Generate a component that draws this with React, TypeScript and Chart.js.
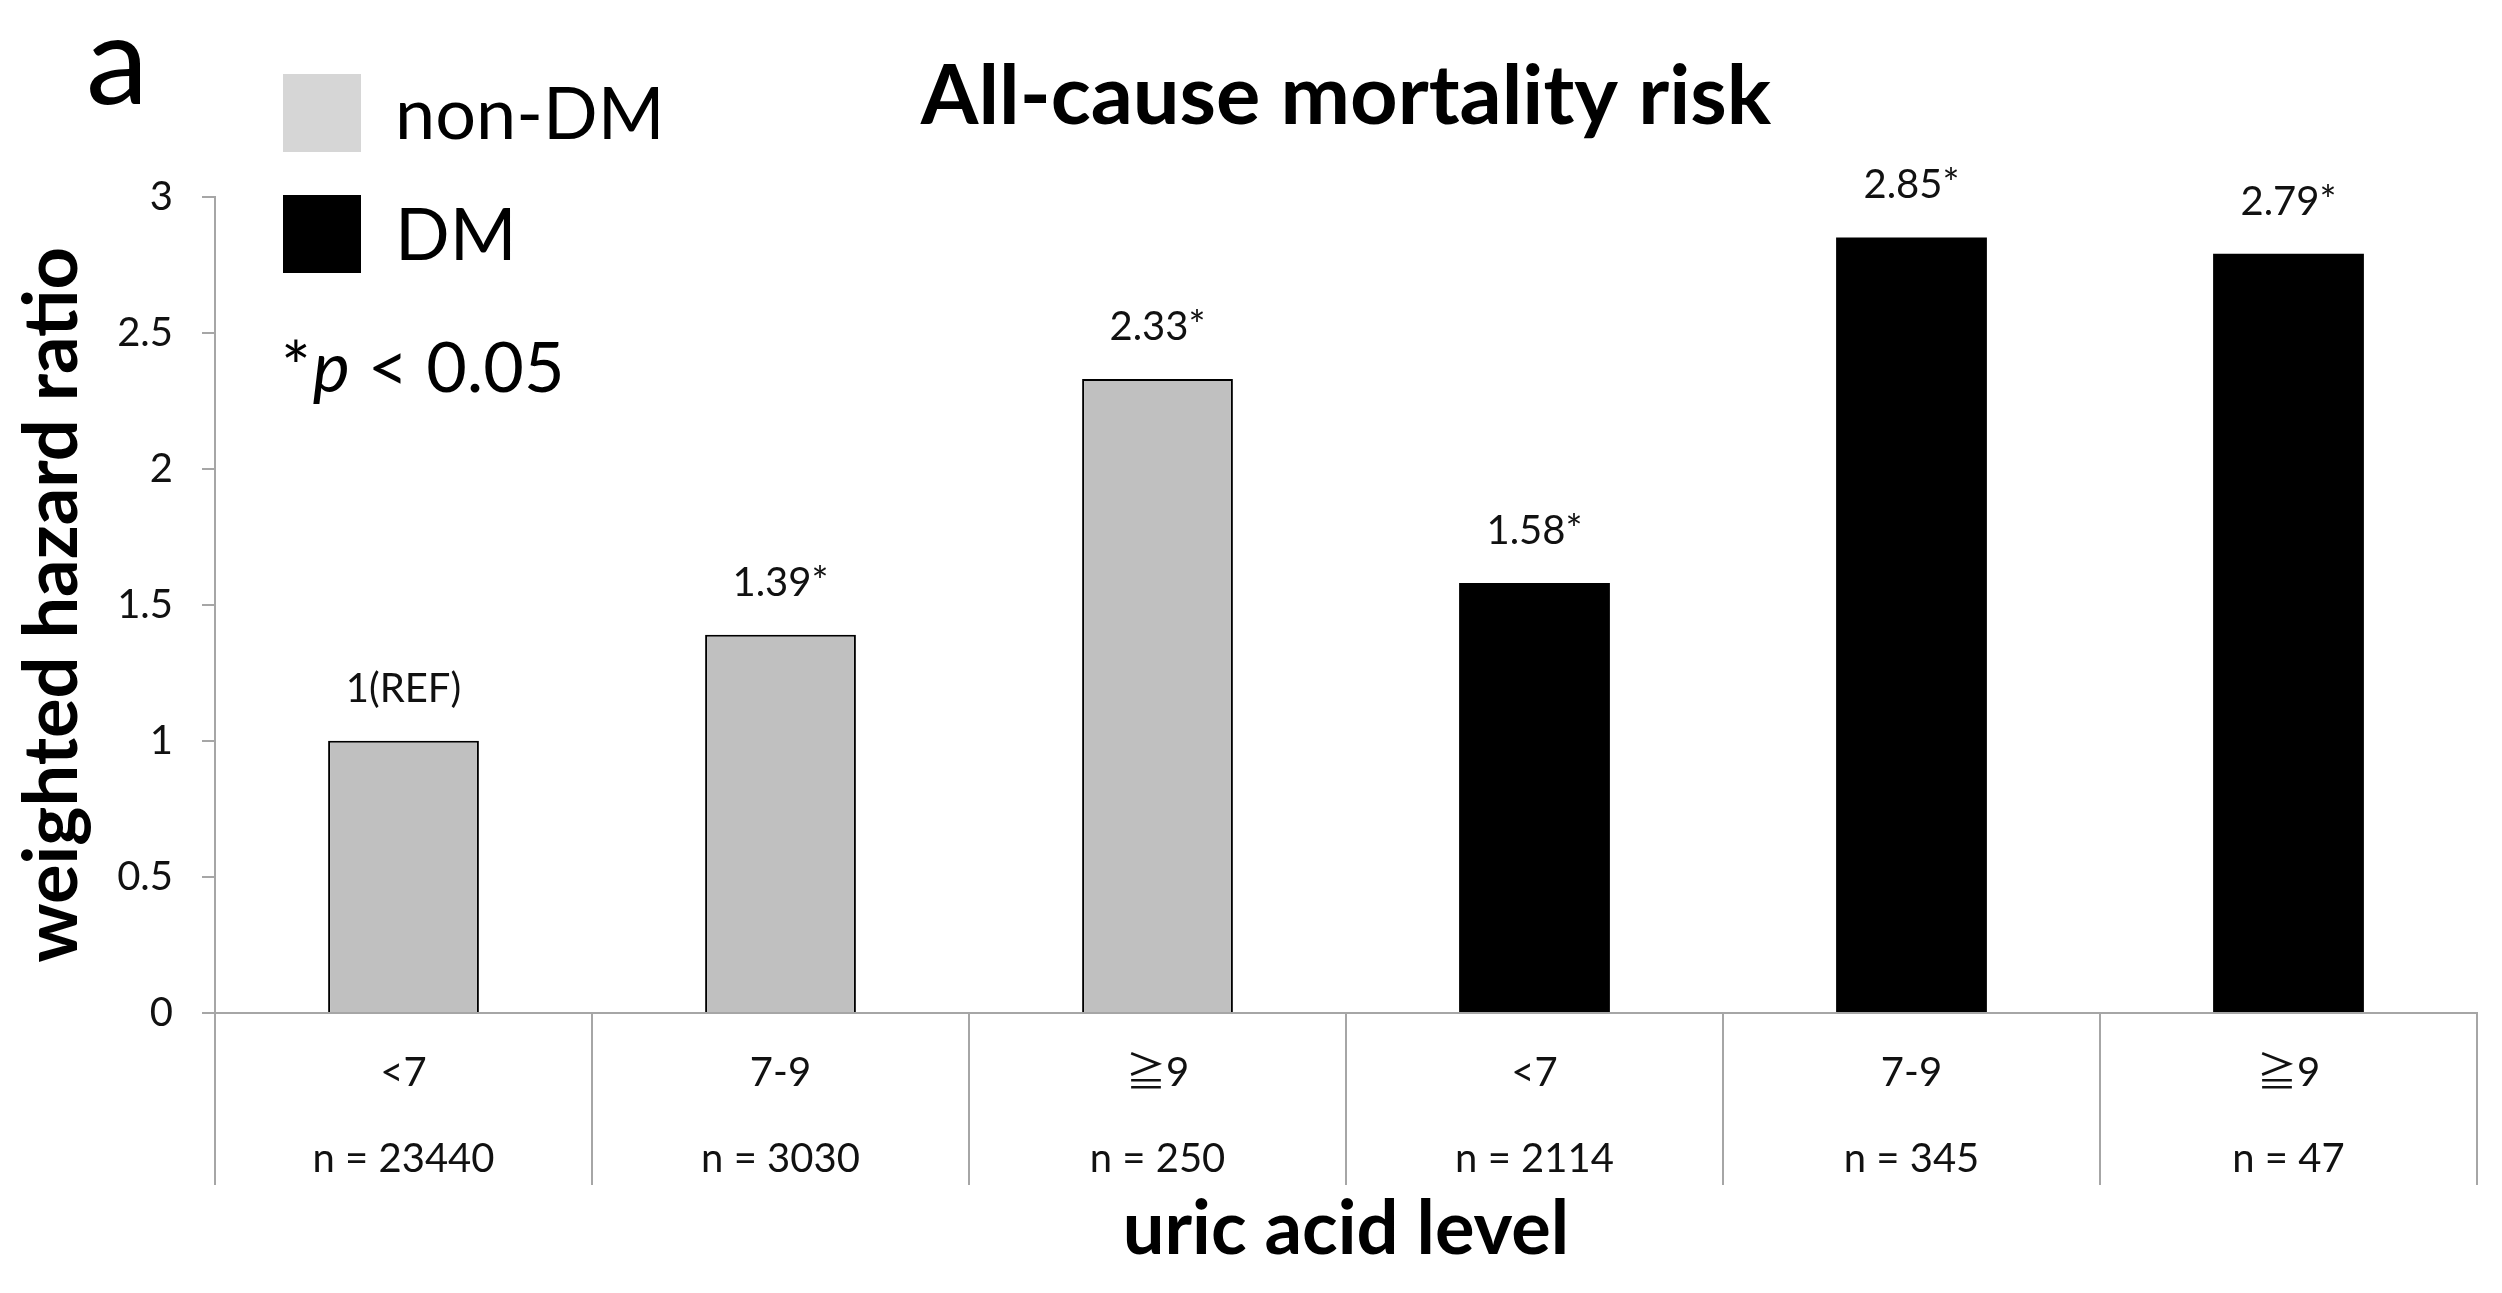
import { useEffect, useRef } from "react";
import { Chart, registerables } from "chart.js";

Chart.register(...registerables);

const FONT = "Lato, 'Noto Sans CJK JP', 'DejaVu Sans', sans-serif";

// data
const uricLevels = ["<7", "7-9", "≧9", "<7", "7-9", "≧9"];
const sampleSizes = [23440, 3030, 250, 2114, 345, 47];
const nonDmHR = [1, 1.39, 2.33, null, null, null];
const dmHR = [null, null, null, 1.58, 2.85, 2.79];
const hrLabels = ["1(REF)", "1.39*", "2.33*", "1.58*", "2.85*", "2.79*"];
const seriesNames = ["non-DM", "DM"];

const AXIS_GRAY = "#a6a6a6";

// value labels above the bars
const barLabels = {
  id: "barLabels",
  afterDatasetsDraw(chart: Chart) {
    const ctx = chart.ctx;
    ctx.save();
    ctx.font = `40px ${FONT}`;
    ctx.fillStyle = "#111";
    ctx.textAlign = "center";
    ctx.textBaseline = "middle";
    chart.data.datasets.forEach((ds, di) => {
      chart.getDatasetMeta(di).data.forEach((bar: any, i) => {
        if (ds.data[i] == null) return;
        ctx.fillText(hrLabels[i], bar.x, bar.y - 52);
      });
    });
    ctx.restore();
  },
};

// panel letter, legend keys and the p-value note
const annotations = {
  id: "annotations",
  afterDraw(chart: Chart) {
    const ctx = chart.ctx;
    ctx.save();
    ctx.fillStyle = "#000";
    ctx.textBaseline = "alphabetic";
    ctx.textAlign = "left";
    ctx.font = `125px ${FONT}`;
    ctx.fillText("a", 86, 104);

    const keys = ["#d6d6d6", "#000000"];
    keys.forEach((c, i) => {
      const top = 74 + i * 121;
      ctx.fillStyle = c;
      ctx.fillRect(283, top, 78, 78);
      ctx.fillStyle = "#000";
      ctx.font = `72px ${FONT}`;
      ctx.textBaseline = "middle";
      ctx.fillText(seriesNames[i], 395, top + 42);
    });

    ctx.textBaseline = "alphabetic";
    let x = 281;
    const y = 392;
    ctx.font = `70px ${FONT}`;
    ctx.fillText("*", x, y);
    x += ctx.measureText("*").width + 2;
    ctx.font = `italic 70px ${FONT}`;
    ctx.fillText("p", x, y);
    x += ctx.measureText("p").width;
    ctx.font = `70px ${FONT}`;
    ctx.fillText(" < 0.05", x, y);
    ctx.restore();
  },
};

function HazardRatioChart() {
  const chartRef = useRef<HTMLCanvasElement>(null);
  const chartInstance = useRef<Chart<"bar"> | null>(null);

  useEffect(() => {
    if (!chartRef.current) return;
    if (chartInstance.current) chartInstance.current.destroy();

    document.body.style.margin = "0";
    document.body.style.overflow = "hidden";

    const ctx = chartRef.current.getContext("2d");
    if (!ctx) return;

    chartInstance.current = new Chart(ctx, {
      type: "bar",
      data: {
        labels: uricLevels.map((u, i) => [u, `n = ${sampleSizes[i]}`]),
        datasets: [
          {
            label: seriesNames[0],
            data: nonDmHR,
            backgroundColor: "#c0c0c0",
            borderColor: "#000",
            borderWidth: 2,
            barPercentage: 0.4,
            categoryPercentage: 1,
            grouped: false,
          },
          {
            label: seriesNames[1],
            data: dmHR,
            backgroundColor: "#000",
            borderColor: "#000",
            borderWidth: 0,
            barPercentage: 0.4,
            categoryPercentage: 1,
            grouped: false,
          },
        ],
      },
      options: {
        responsive: true,
        maintainAspectRatio: false,
        animation: false,
        layout: { padding: { top: 0, right: 25, bottom: 0, left: 0 } },
        plugins: {
          legend: { display: false },
          tooltip: { enabled: false },
          title: {
            display: true,
            text: "All-cause mortality risk",
            fullSize: false,
            color: "#000",
            font: { family: FONT, size: 83, weight: "bold", lineHeight: 1.2 },
            padding: { top: 47, bottom: 50 },
          },
        },
        scales: {
          x: {
            grid: {
              offset: true,
              drawOnChartArea: false,
              tickLength: 172,
              color: AXIS_GRAY,
              lineWidth: 2,
            },
            border: { color: AXIS_GRAY, width: 2 },
            ticks: {
              color: "#111",
              font: { family: FONT, size: 40, lineHeight: "86px" },
              padding: -155,
              autoSkip: false,
              maxRotation: 0,
            },
            title: {
              display: true,
              text: "uric acid level",
              color: "#000",
              font: { family: FONT, size: 74, weight: "bold", lineHeight: 1.2 },
              padding: { top: 0, bottom: 18 },
            },
            afterFit: (scale: any) => {
              scale.height = 280;
            },
          },
          y: {
            min: 0,
            max: 3,
            grid: {
              drawOnChartArea: false,
              tickLength: 13,
              color: AXIS_GRAY,
              lineWidth: 2,
            },
            border: { color: AXIS_GRAY, width: 2 },
            ticks: {
              stepSize: 0.5,
              color: "#111",
              font: { family: FONT, size: 40 },
              padding: 29,
              callback: (value: any) => `${Number(value)}`,
            },
            title: {
              display: true,
              text: "weighted hazard ratio",
              color: "#000",
              font: { family: FONT, size: 74, weight: "bold", lineHeight: 1.2 },
              padding: { top: 9, bottom: 0 },
            },
            afterFit: (scale: any) => {
              scale.width = 215;
            },
          },
        },
      },
      plugins: [barLabels, annotations],
    });

    return () => {
      if (chartInstance.current) {
        chartInstance.current.destroy();
        chartInstance.current = null;
      }
    };
  }, []);

  return (
    <div style={{ position: "absolute", left: 0, top: 0, width: 2502, height: 1293 }}>
      <canvas ref={chartRef} />
    </div>
  );
}

export default function App() {
  return <HazardRatioChart />;
}
